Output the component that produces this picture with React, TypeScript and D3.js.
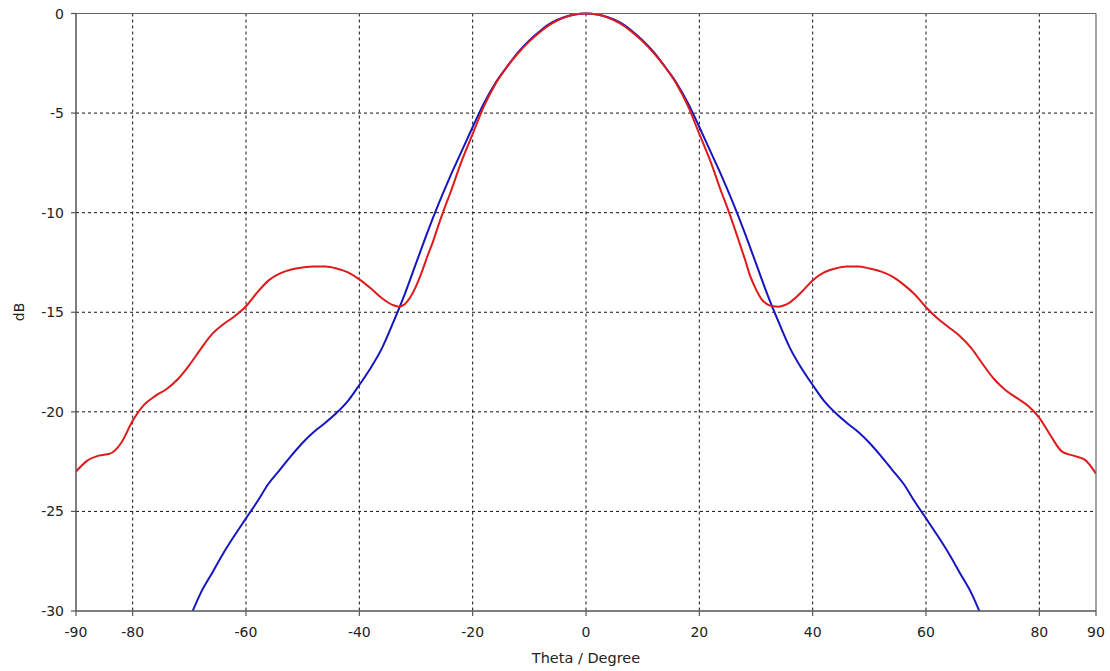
import React from "react";
import * as d3 from "d3";

const xTicks = [-90, -80, -60, -40, -20, 0, 20, 40, 60, 80, 90];
const xGrid = [-80, -60, -40, -20, 0, 20, 40, 60, 80];
const yTicks = [0, -5, -10, -15, -20, -25, -30];

const redTheta = [-90, -88, -86, -84, -82, -80, -78, -76, -74, -72, -70, -68, -66, -64, -62, -60, -58, -56, -54, -52, -50, -48, -46, -44, -42, -40, -38, -36, -34, -33, -32, -31, -30, -29, -28, -27, -26, -25, -24, -22, -20, -18, -16, -14, -12, -10, -8, -6, -4, -2, 0,
  2, 4, 6, 8, 10, 12, 14, 16, 18, 20, 22, 24, 25, 26, 27, 28, 29, 30, 31, 32, 33, 34, 35, 36, 38, 40, 42, 44, 46, 48, 50, 52, 54, 56, 58, 60, 62, 64, 66, 68, 70, 72, 74, 76, 78, 80, 82, 84, 86, 88, 90];
const redDb = [-23.0, -22.45, -22.2, -22.1, -21.55, -20.45, -19.65, -19.2, -18.85, -18.35, -17.65, -16.85, -16.1, -15.6, -15.2, -14.7, -14.0, -13.4, -13.05, -12.85, -12.75, -12.7, -12.7, -12.8, -13.0, -13.35, -13.8, -14.3, -14.65, -14.72, -14.6, -14.25, -13.7, -13.0, -12.2, -11.45, -10.6, -9.8, -9.05, -7.45, -6.05, -4.65, -3.55, -2.7, -2.0, -1.4, -0.9, -0.5, -0.22, -0.05, 0,
  -0.05, -0.22, -0.5, -0.9, -1.4, -2.0, -2.7, -3.55, -4.65, -6.05, -7.45, -9.05, -9.8, -10.6, -11.45, -12.3, -13.2, -13.85, -14.35, -14.6, -14.7, -14.72, -14.65, -14.5, -14.0, -13.4, -13.0, -12.8, -12.7, -12.7, -12.8, -12.95, -13.2, -13.6, -14.1, -14.75, -15.3, -15.75, -16.2, -16.8, -17.6, -18.35, -18.9, -19.3, -19.7, -20.3, -21.2, -22.0, -22.2, -22.4, -23.1];

const blueTheta = [-70, -68, -66, -64, -62, -60, -58, -56, -54, -52, -50, -48, -46, -44, -42, -40, -38, -36, -34, -32, -30, -28, -26, -24, -22, -20, -18, -16, -14, -12, -10, -8, -6, -4, -2, 0,
  2, 4, 6, 8, 10, 12, 14, 16, 18, 20, 22, 24, 26, 28, 30, 32, 34, 36, 38, 40, 42, 44, 46, 48, 50, 52, 54, 56, 58, 60, 62, 64, 66, 68, 70];
const blueDb = [-30.4, -29.1, -28.1, -27.1, -26.2, -25.35, -24.5, -23.6, -22.9, -22.2, -21.55, -21.0, -20.55, -20.05, -19.45, -18.65, -17.8, -16.8, -15.5, -14.1, -12.55, -11.0, -9.55, -8.2, -6.95, -5.7, -4.5, -3.5, -2.7, -1.95, -1.35, -0.85, -0.45, -0.2, -0.05, 0,
  -0.05, -0.2, -0.45, -0.85, -1.35, -1.95, -2.7, -3.5, -4.5, -5.7, -6.95, -8.2, -9.55, -11.0, -12.55, -14.1, -15.5, -16.8, -17.8, -18.65, -19.45, -20.05, -20.55, -21.0, -21.55, -22.2, -22.9, -23.6, -24.5, -25.35, -26.2, -27.1, -28.1, -29.1, -30.4];

const W = 1110;
const H = 671;
const L = 76, R = 1096, T = 13.5, B = 611;
const FONT = "'DejaVu Sans', Verdana, sans-serif";

export default function App() {
  const x = d3.scaleLinear().domain([-90, 90]).range([L, R]);
  const y = d3.scaleLinear().domain([-30, 0]).range([B, T]);
  const line = d3
    .line<[number, number]>()
    .x((d) => x(d[0]))
    .y((d) => y(d[1]))
    .curve(d3.curveMonotoneX);
  const red = line(redTheta.map((t, i) => [t, redDb[i]] as [number, number])) || "";
  const blue = line(blueTheta.map((t, i) => [t, blueDb[i]] as [number, number])) || "";

  return (
    <svg width={W} height={H} style={{ position: "absolute", left: 0, top: 0, background: "#fff" }}>
      <defs>
        <clipPath id="plot">
          <rect x={L} y={T - 2} width={R - L} height={B - T + 2} />
        </clipPath>
      </defs>
      {xGrid.map((v) => (
        <line key={"gx" + v} x1={x(v)} x2={x(v)} y1={T} y2={B} stroke="#111" strokeWidth={1} strokeDasharray="3,3" />
      ))}
      {yTicks.filter((v) => v !== 0 && v !== -30).map((v) => (
        <line key={"gy" + v} x1={L} x2={R} y1={y(v)} y2={y(v)} stroke="#111" strokeWidth={1} strokeDasharray="3,3" />
      ))}
      <g clipPath="url(#plot)">
        <path d={blue} fill="none" stroke="#1616c0" strokeWidth={2} />
        <path d={red} fill="none" stroke="#de1a1a" strokeWidth={2} />
      </g>
      <line x1={L} x2={R} y1={T} y2={T} stroke="#666" strokeWidth={1.2} />
      <line x1={R} x2={R} y1={T} y2={B} stroke="#666" strokeWidth={1.2} />
      <line x1={L} x2={L} y1={T} y2={B} stroke="#555" strokeWidth={1.5} />
      <line x1={L} x2={R} y1={B} y2={B} stroke="#555" strokeWidth={1.5} />
      {yTicks.map((v) => (
        <g key={"yt" + v}>
          <line x1={L - 5} x2={L} y1={y(v)} y2={y(v)} stroke="#555" strokeWidth={1.2} />
          <text x={L - 12} y={y(v)} textAnchor="end" dominantBaseline="central" fontFamily={FONT} fontSize={14} fill="#222">
            {v}
          </text>
        </g>
      ))}
      {xTicks.map((v) => (
        <g key={"xt" + v}>
          <line x1={x(v)} x2={x(v)} y1={B} y2={B + 5} stroke="#555" strokeWidth={1.2} />
          <text x={x(v)} y={631.5} textAnchor="middle" dominantBaseline="central" fontFamily={FONT} fontSize={14} fill="#222">
            {v}
          </text>
        </g>
      ))}
      <text x={586} y={658} textAnchor="middle" dominantBaseline="central" fontFamily={FONT} fontSize={14.5} fill="#222">
        Theta / Degree
      </text>
      <text transform={`translate(19,312) rotate(-90)`} textAnchor="middle" dominantBaseline="central" fontFamily={FONT} fontSize={14} fill="#222">
        dB
      </text>
    </svg>
  );
}
